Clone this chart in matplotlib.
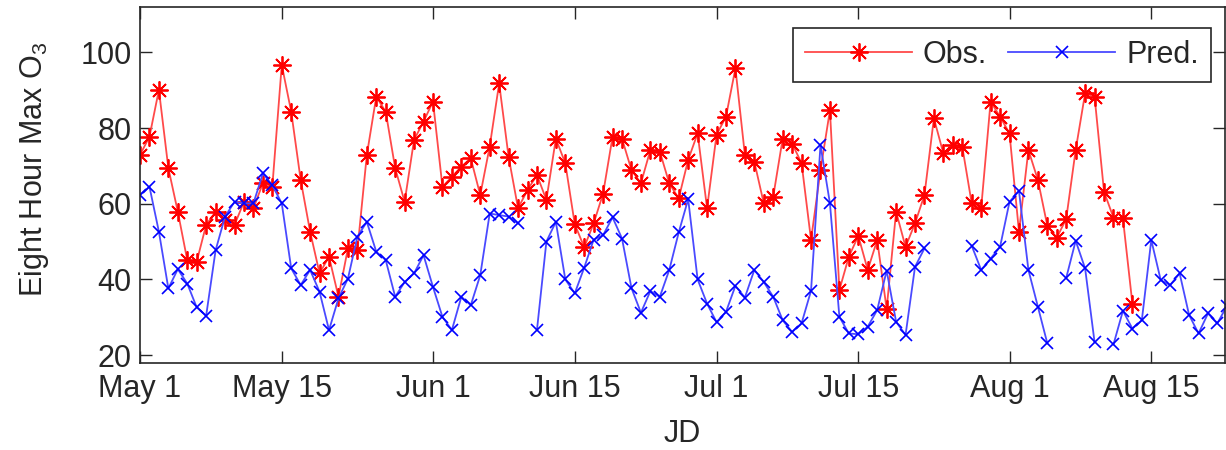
import numpy as np
import matplotlib
matplotlib.use('Agg')
import matplotlib.pyplot as plt

plt.rcParams['font.family'] = ['Liberation Sans', 'DejaVu Sans']
plt.rcParams['mathtext.fontset'] = 'custom'
plt.rcParams['mathtext.rm'] = 'Liberation Sans'
plt.rcParams['mathtext.default'] = 'regular'

nan = np.nan

# day of year of the first sample (one value per day)
start_jd = 120

obs = [72.9, 77.7, 90.1, 69.4, 57.9, 45.1, 44.7, 54.4, 57.9, 55.7,
       54.4, 60.5, 58.8, 65.4, 64.5, 96.7, 84.3, 66.3, 52.6, 41.6,
       46.0, 35.4, 48.2, 47.7, 72.9, 88.3, 84.3, 69.4, 60.5, 76.9,
       81.7, 87.0, 64.5, 67.1, 69.8, 72.0, 62.3, 75.1, 91.8, 72.4,
       58.8, 63.6, 67.6, 61.0, 77.2, 70.7, 54.6, 48.5, 54.8, 62.7,
       77.7, 77.2, 68.9, 65.4, 74.2, 73.8, 65.4, 61.4, 71.6, 78.6,
       58.8, 78.2, 83.0, 95.8, 72.9, 71.1, 60.1, 61.9, 77.2, 75.9,
       70.7, 50.4, 68.9, 84.7, 37.2, 46.0, 51.5, 42.5, 50.4, 32.2,
       57.9, 48.6, 54.8, 62.3, 82.6, 73.3, 75.5, 75.1, 60.1, 58.8,
       87.0, 83.0, 78.6, 52.6, 74.2, 66.3, 54.2, 51.0, 56.0, 74.2,
       89.2, 88.3, 63.2, 56.3, 56.1, 33.6]

pred = [62.3, 64.5, 52.6, 37.6, 42.7, 38.9, 32.6, 30.4, 47.7, 56.6,
        60.5, 60.1, 60.1, 68.0, 64.9, 60.1, 42.9, 38.5, 42.5, 36.7,
        26.6, 35.0, 40.2, 51.3, 55.2, 47.3, 45.1, 35.4, 39.3, 41.6,
        46.4, 38.0, 30.1, 26.6, 35.4, 33.2, 41.1, 57.4, 57.0, 56.6,
        54.8, nan, 26.6, 50.0, 55.2, 40.0, 36.3, 43.1, 50.5, 51.7,
        56.4, 50.8, 37.7, 31.2, 36.9, 35.4, 42.5, 52.4, 61.2, 40.0,
        33.6, 28.7, 31.4, 38.3, 35.2, 42.5, 39.3, 35.4, 29.2, 26.1,
        28.4, 37.0, 75.5, 60.1, 30.1, 25.7, 25.5, 27.5, 31.9, 42.3,
        28.8, 25.3, 43.3, 48.2, nan, nan, nan, nan, 48.9, 42.5,
        45.5, 48.6, 60.5, 63.4, 42.5, 32.8, 23.1, nan, 40.4, 50.2,
        42.9, 23.4, nan, 22.8, 31.7, 27.0, 29.2, 50.4, 39.8, 38.5,
        41.6, 30.6, 25.7, 31.0, 28.4, 33.0]

tick_jd = [120, 135, 151, 166, 181, 196, 212, 227]
tick_labels = ['May 1', 'May 15', 'Jun 1', 'Jun 15', 'Jul 1', 'Jul 15',
               'Aug 1', 'Aug 15']
y_ticks = [20, 40, 60, 80, 100]

obs_jd = start_jd + np.arange(len(obs))
pred_jd = start_jd + np.arange(len(pred))

dark = '#262626'
fs = 22

fig = plt.figure(figsize=(12.26, 4.5), dpi=100)
ax = fig.add_axes([140 / 1226, 1 - 363 / 450, 1085 / 1226, 356 / 450])

ax.plot(obs_jd, obs, color='#ff4a4a', lw=1.3, marker=(8, 2, 0),
        markersize=13, markeredgewidth=1.3, markeredgecolor='#ff0000',
        label='Obs.')
ax.plot(pred_jd, pred, color='#4a4aff', lw=1.3, marker='x',
        markersize=9, markeredgewidth=1.2, markeredgecolor='#0000ff',
        label='Pred.')

ax.set_xlim(120, 234.8)
ax.set_ylim(17.9, 112)
ax.set_xticks(tick_jd)
ax.set_xticklabels(tick_labels)
ax.set_yticks(y_ticks)

ax.tick_params(direction='in', length=8.5, width=1.0, colors=dark,
               labelsize=fs, top=True, right=True)
ax.tick_params(axis='x', pad=8)
ax.tick_params(axis='y', pad=6)
for s in ax.spines.values():
    s.set_color(dark)
    s.set_linewidth(1.2)

ax.set_xlabel('JD', fontsize=fs, color=dark, labelpad=11)
ax.set_ylabel('Eight Hour Max O$_3$', fontsize=fs, color=dark)
ax.yaxis.set_label_coords(-0.082, 0.545)

leg = ax.legend(loc='upper right', bbox_to_anchor=(0.987, 0.942),
                borderaxespad=0, ncol=2, fontsize=fs, fancybox=False,
                handlelength=3.5, handletextpad=0.35, columnspacing=0.7,
                borderpad=0.4, framealpha=1)
leg.get_frame().set_edgecolor(dark)
leg.get_frame().set_linewidth(1.2)
for t in leg.get_texts():
    t.set_color(dark)

fig.savefig('out.png', dpi=100)
